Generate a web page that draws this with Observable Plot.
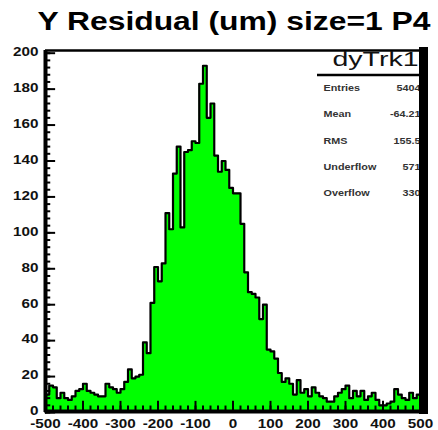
<!DOCTYPE html>
<html>
<head>
<meta charset="utf-8">
<script src="https://cdn.jsdelivr.net/npm/d3@7"></script>
<script src="https://cdn.jsdelivr.net/npm/@observablehq/plot@0.6"></script>
<style>
  html, body { margin: 0; padding: 0; background: white; }
</style>
</head>
<body>
<div id="chart"></div>
<script>
// ---- data ----
const title = "Y Residual (um) size=1 P4";
const histName = "dyTrk1";
const binStart = -500;
const binWidth = 10;
const counts = [
  10, 15, 14, 8, 11, 8, 7, 9, 12, 13,
  16, 12, 11, 10, 9, 9, 16, 14, 13, 11,
  13, 17, 24, 19, 20, 21, 39, 33, 61, 81,
  73, 83, 111, 102, 133, 148, 103, 145, 146, 151,
  150, 183, 193, 164, 172, 143, 134, 140, 135, 125,
  122, 122, 105, 78, 67, 66, 64, 52, 60, 35,
  34, 30, 22, 17, 19, 16, 10, 18, 11, 13,
  9, 14, 11, 9, 8, 6, 6, 9, 11, 13,
  15, 8, 12, 9, 12, 7, 9, 11, 7, 4,
  4, 5, 6, 13, 10, 8, 7, 11, 8, 10
];
const xTicks = [-500, -400, -300, -200, -100, 0, 100, 200, 300, 400, 500];
const xMinorTicks = d3.range(-500, 501, 20);
const yTicks = [0, 20, 40, 60, 80, 100, 120, 140, 160, 180, 200];
const yMinorTicks = d3.range(0, 201, 4);
const statLabels = ["Entries", "Mean", "RMS", "Underflow", "Overflow"];
const statValues = ["5404", "-64.21", "155.5", "571", "330"];

// ---- derived tables ----
const bins = counts.map((c, i) => ({x1: binStart + i * binWidth, x2: binStart + (i + 1) * binWidth, count: c}));
const outline = [{x: bins[0].x1, y: 0}];
bins.forEach(b => { outline.push({x: b.x1, y: b.count}); outline.push({x: b.x2, y: b.count}); });
outline.push({x: bins[bins.length - 1].x2, y: 0});

const X0 = -500, X1 = 500, YMAX = 201.5;
const font = "Liberation Sans, Arial, sans-serif";

const statMarks = [];
statLabels.forEach((s, i) => {
  statMarks.push(Plot.text([s], {frameAnchor: "top-right", dx: -97, dy: 38 + 26.2 * i, textAnchor: "start", lineAnchor: "middle", fontSize: 8.5, fontWeight: "bold", fill: "#333"}));
  statMarks.push(Plot.text([statValues[i]], {frameAnchor: "top-right", dx: 0, dy: 38 + 26.2 * i, textAnchor: "end", lineAnchor: "middle", fontSize: 8.5, fontWeight: "bold", fill: "#333"}));
});

const chart = Plot.plot({
  width: 438,
  height: 430,
  marginTop: 50,
  marginBottom: 18,
  marginLeft: 45,
  marginRight: 18,
  x: {domain: [X0, X1]},
  y: {domain: [0, YMAX]},
  style: {fontFamily: font, background: "white", color: "black"},
  marks: [
    Plot.areaY(outline, {x: "x", y1: 0, y2: "y", fill: "#00ff00", curve: "linear"}),
    Plot.line(outline, {x: "x", y: "y", stroke: "black", strokeWidth: 2.2}),
    Plot.ruleX(xMinorTicks, {y1: 0, y2: 3.6, stroke: "black", strokeWidth: 2}),
    Plot.ruleX(xTicks, {y1: 0, y2: 6.2, stroke: "black", strokeWidth: 2}),
    Plot.ruleY(yMinorTicks, {x1: X0, x2: X0 + 14, stroke: "black", strokeWidth: 2}),
    Plot.ruleY(yTicks, {x1: X0, x2: X0 + 27, stroke: "black", strokeWidth: 2}),
    Plot.ruleY([0], {stroke: "black", strokeWidth: 4, dy: -1}),
    Plot.ruleX([X0], {stroke: "black", strokeWidth: 4}),
    Plot.ruleY([YMAX], {stroke: "black", strokeWidth: 2.5}),
    Plot.axisX(xTicks, {tickSize: 0, tickPadding: 7, fontSize: 12, fontWeight: "bold", label: null, tickFormat: d => String(d), fill: "#111"}),
    Plot.axisY(yTicks, {tickSize: 0, tickPadding: 7, dy: -1, fontSize: 12, fontWeight: "bold", label: null, tickFormat: d => String(d), fill: "#111"}),
    Plot.text([histName], {frameAnchor: "top-right", dx: -45, dy: 9, textAnchor: "middle", lineAnchor: "middle", fontSize: 20, fill: "#111"}),
    ...statMarks,
    Plot.ruleX([X1], {stroke: "black", strokeWidth: 9, dx: 3, insetTop: -3, insetBottom: -2}),
    Plot.text([title], {frameAnchor: "top", dx: 1, dy: -29, lineAnchor: "middle", fontSize: 25, fontWeight: "bold", fill: "black"})
  ]
});

document.getElementById("chart").appendChild(chart);

// horizontal rule under the stats title
d3.select(chart).append("line")
  .attr("x1", 317).attr("x2", 420).attr("y1", 75).attr("y2", 75)
  .attr("stroke", "black").attr("stroke-width", 2.5);

// the reference's text is horizontally stretched
const K = 1.27;
chart.querySelectorAll("text").forEach(t => {
  const content = t.textContent;
  if (content === histName) { t.setAttribute("textLength", 86); t.setAttribute("lengthAdjust", "spacingAndGlyphs"); return; }
  if (content === title) { t.setAttribute("textLength", 393); t.setAttribute("lengthAdjust", "spacingAndGlyphs"); return; }
  const w = t.getComputedTextLength();
  if (w > 0) { t.setAttribute("textLength", w * K); t.setAttribute("lengthAdjust", "spacingAndGlyphs"); }
});
</script>
</body>
</html>
